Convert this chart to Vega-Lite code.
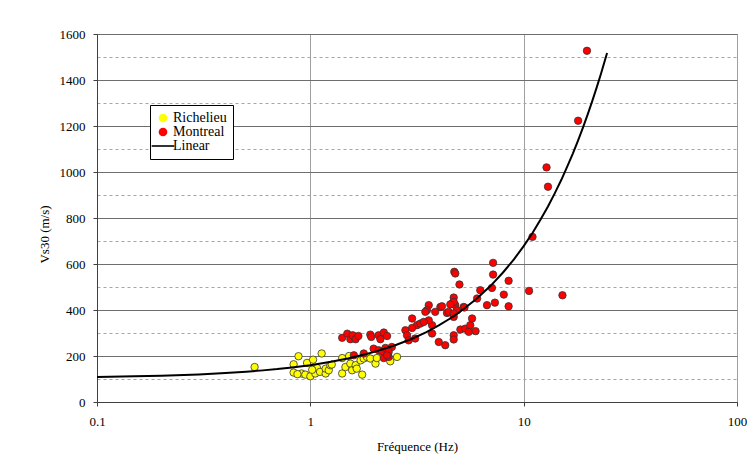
{
  "$schema": "https://vega.github.io/schema/vega-lite/v6.json",
  "width": 640,
  "height": 368,
  "autosize": {"type": "none"},
  "padding": {"left": 97, "top": 34, "right": 10, "bottom": 60},
  "background": "white",
  "config": {
    "font": "Liberation Serif",
    "view": {"stroke": "#8c8c8c", "strokeWidth": 1},
    "axis": {"labelFont": "Liberation Serif", "titleFont": "Liberation Serif", "labelFontSize": 13, "titleFontSize": 13, "titleFontWeight": "normal", "labelColor": "#000", "titleColor": "#000"},
    "legend": {"symbolStrokeColor": "#000", "symbolStrokeWidth": 1.6}
  },
  "datasets": {
    "richelieu": [
      {"f": 0.548, "v": 152}, {"f": 0.835, "v": 164}, {"f": 0.88, "v": 199}, {"f": 0.835, "v": 128},
      {"f": 0.91, "v": 124}, {"f": 0.947, "v": 119}, {"f": 0.965, "v": 170}, {"f": 1.0, "v": 112},
      {"f": 1.03, "v": 184}, {"f": 1.055, "v": 124}, {"f": 1.075, "v": 148}, {"f": 1.11, "v": 131},
      {"f": 1.13, "v": 211}, {"f": 1.18, "v": 124}, {"f": 1.18, "v": 145}, {"f": 1.22, "v": 138},
      {"f": 1.24, "v": 160}, {"f": 0.87, "v": 121}, {"f": 1.02, "v": 140}, {"f": 1.26, "v": 163},
      {"f": 1.41, "v": 191}, {"f": 1.41, "v": 124}, {"f": 1.46, "v": 152}, {"f": 1.54, "v": 167},
      {"f": 1.57, "v": 138}, {"f": 1.63, "v": 160}, {"f": 1.65, "v": 145}, {"f": 1.72, "v": 181},
      {"f": 1.75, "v": 119}, {"f": 1.78, "v": 189}, {"f": 1.84, "v": 196}, {"f": 1.91, "v": 189},
      {"f": 2.02, "v": 167}, {"f": 2.05, "v": 191}, {"f": 2.37, "v": 177}, {"f": 2.55, "v": 196},
      {"f": 1.52, "v": 200}
    ],
    "montreal": [
      {"f": 1.41, "v": 279}, {"f": 1.49, "v": 297}, {"f": 1.54, "v": 273}, {"f": 1.58, "v": 290},
      {"f": 1.63, "v": 273}, {"f": 1.68, "v": 287}, {"f": 1.91, "v": 293}, {"f": 1.93, "v": 283},
      {"f": 2.09, "v": 290}, {"f": 2.13, "v": 273}, {"f": 2.21, "v": 302}, {"f": 2.29, "v": 287},
      {"f": 1.60, "v": 203}, {"f": 1.78, "v": 211}, {"f": 1.98, "v": 232}, {"f": 2.09, "v": 225},
      {"f": 2.17, "v": 218}, {"f": 2.21, "v": 191}, {"f": 2.33, "v": 196}, {"f": 2.25, "v": 235},
      {"f": 2.41, "v": 239}, {"f": 2.33, "v": 218}, {"f": 2.29, "v": 203},
      {"f": 2.79, "v": 312}, {"f": 2.84, "v": 290}, {"f": 2.89, "v": 268}, {"f": 3.0, "v": 363},
      {"f": 3.10, "v": 276}, {"f": 3.16, "v": 334}, {"f": 3.28, "v": 341}, {"f": 3.0, "v": 322},
      {"f": 3.59, "v": 421}, {"f": 3.52, "v": 399}, {"f": 3.46, "v": 392}, {"f": 3.85, "v": 392},
      {"f": 3.72, "v": 334}, {"f": 3.72, "v": 298}, {"f": 4.0, "v": 261}, {"f": 4.29, "v": 247},
      {"f": 4.07, "v": 413}, {"f": 4.37, "v": 387}, {"f": 3.59, "v": 355}, {"f": 3.40, "v": 348},
      {"f": 4.70, "v": 454}, {"f": 4.61, "v": 428}, {"f": 4.78, "v": 421}, {"f": 4.87, "v": 399},
      {"f": 5.23, "v": 413}, {"f": 4.70, "v": 370}, {"f": 4.70, "v": 290}, {"f": 4.70, "v": 272},
      {"f": 5.05, "v": 315}, {"f": 5.32, "v": 319}, {"f": 5.53, "v": 305}, {"f": 5.62, "v": 334},
      {"f": 5.73, "v": 363}, {"f": 5.95, "v": 308}, {"f": 6.05, "v": 450}, {"f": 4.73, "v": 566},
      {"f": 4.78, "v": 559}, {"f": 5.0, "v": 511}, {"f": 7.19, "v": 605}, {"f": 7.19, "v": 554},
      {"f": 8.5, "v": 527}, {"f": 7.1, "v": 496}, {"f": 6.26, "v": 486}, {"f": 10.6, "v": 483},
      {"f": 15.2, "v": 464}, {"f": 8.07, "v": 467}, {"f": 7.33, "v": 432}, {"f": 6.73, "v": 421},
      {"f": 8.5, "v": 416}, {"f": 4.7, "v": 435}, {"f": 4.14, "v": 416}, {"f": 5.28, "v": 411},
      {"f": 4.45, "v": 392}, {"f": 4.70, "v": 385}, {"f": 4.53, "v": 424},
      {"f": 11.0, "v": 718}, {"f": 12.8, "v": 1020}, {"f": 13.0, "v": 936}, {"f": 18.0, "v": 1223},
      {"f": 19.8, "v": 1527}
    ],
    "linear": [
      {"f": 0.1, "v": 109}, {"f": 0.15, "v": 112}, {"f": 0.2, "v": 114.5}, {"f": 0.3, "v": 120},
      {"f": 0.4, "v": 126}, {"f": 0.5, "v": 132}, {"f": 0.6, "v": 137.5}, {"f": 0.7, "v": 143},
      {"f": 0.8, "v": 149}, {"f": 1, "v": 160}, {"f": 1.25, "v": 175}, {"f": 1.5, "v": 189},
      {"f": 1.75, "v": 204}, {"f": 2, "v": 218}, {"f": 2.5, "v": 247}, {"f": 3, "v": 275},
      {"f": 3.5, "v": 304}, {"f": 4, "v": 333}, {"f": 4.5, "v": 362}, {"f": 5, "v": 390},
      {"f": 6, "v": 448}, {"f": 7, "v": 505}, {"f": 8, "v": 563}, {"f": 9, "v": 620},
      {"f": 10, "v": 678}, {"f": 11, "v": 735}, {"f": 12, "v": 793}, {"f": 13, "v": 850},
      {"f": 14, "v": 908}, {"f": 15, "v": 965}, {"f": 16, "v": 1023}, {"f": 17, "v": 1080},
      {"f": 18, "v": 1138}, {"f": 19, "v": 1195}, {"f": 20, "v": 1253}, {"f": 21, "v": 1310},
      {"f": 22, "v": 1368}, {"f": 23, "v": 1425}, {"f": 24.6, "v": 1517}
    ]
  },
  "resolve": {"axis": {"y": "independent"}},
  "layer": [
    {
      "data": {"name": "linear"},
      "mark": {"type": "line", "opacity": 0},
      "encoding": {
        "x": {"field": "f", "type": "quantitative", "scale": {"type": "log", "domain": [0.1, 100], "nice": false},
          "axis": {"values": [0.1, 1, 10, 100], "format": "~g", "title": "Fréquence (Hz)", "labelFont": "Liberation Serif", "titleFont": "Liberation Serif", "labelFontSize": 13, "titleFontSize": 13, "grid": true, "gridColor": "#a0a0a0", "gridWidth": 1, "domainColor": "#404040", "tickColor": "#404040", "tickSize": 4, "labelPadding": 9, "titlePadding": 12, "labelFlush": false}},
        "y": {"field": "v", "type": "quantitative", "scale": {"domain": [0, 1600], "nice": false},
          "axis": {"orient": "left", "values": [100, 300, 500, 700, 900, 1100, 1300, 1500], "labels": false, "ticks": false, "domain": false, "title": null, "grid": true, "gridColor": "#a6a6a6", "gridDash": [3, 3], "gridWidth": 1}}
      }
    },
    {
      "data": {"name": "richelieu"},
      "transform": [{"calculate": "'Richelieu'", "as": "series"}],
      "mark": {"type": "point", "filled": true, "size": 55, "stroke": "#333", "strokeWidth": 0.8, "opacity": 1},
      "encoding": {
        "x": {"field": "f", "type": "quantitative"},
        "y": {"field": "v", "type": "quantitative",
          "axis": {"orient": "left", "values": [0, 200, 400, 600, 800, 1000, 1200, 1400, 1600], "format": "d", "title": "Vs30 (m/s)", "labelFont": "Liberation Serif", "titleFont": "Liberation Serif", "labelFontSize": 13, "titleFontSize": 13, "grid": true, "gridColor": "#6e6e6e", "gridWidth": 1, "domainColor": "#404040", "tickColor": "#404040", "tickSize": 4, "labelPadding": 8, "titlePadding": 8, "titleY": 200}},
        "color": {"field": "series", "type": "nominal", "scale": {"domain": ["Richelieu", "Montreal", "Linear"], "range": ["#ffff00", "#ff0000", "#000000"]},
          "legend": {"title": null, "orient": "none", "legendX": 53, "legendY": 71, "strokeColor": "#000", "fillColor": "#fff", "padding": 6, "labelFont": "Liberation Serif", "labelFontSize": 14, "labelColor": "#000", "rowPadding": 0, "labelOffset": 3, "symbolSize": 50}},
        "shape": {"field": "series", "type": "nominal", "scale": {"domain": ["Richelieu", "Montreal", "Linear"], "range": ["circle", "circle", "M-3.2,0H3.2"]}}
      }
    },
    {
      "data": {"name": "montreal"},
      "transform": [{"calculate": "'Montreal'", "as": "series"}],
      "mark": {"type": "point", "filled": true, "size": 55, "stroke": "#333", "strokeWidth": 0.8, "opacity": 1},
      "encoding": {
        "x": {"field": "f", "type": "quantitative"},
        "y": {"field": "v", "type": "quantitative", "axis": null},
        "color": {"field": "series", "type": "nominal"},
        "shape": {"field": "series", "type": "nominal"}
      }
    },
    {
      "data": {"name": "linear"},
      "transform": [{"calculate": "'Linear'", "as": "series"}],
      "mark": {"type": "line", "strokeWidth": 2},
      "encoding": {
        "x": {"field": "f", "type": "quantitative"},
        "y": {"field": "v", "type": "quantitative", "axis": null},
        "color": {"field": "series", "type": "nominal"}
      }
    }
  ]
}
